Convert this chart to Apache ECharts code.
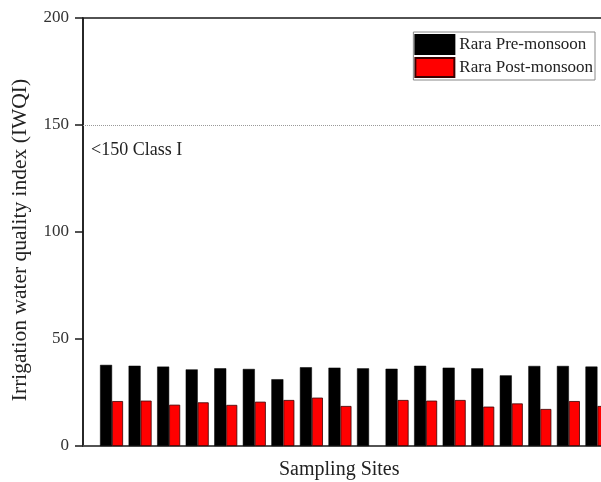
<!DOCTYPE html>
<html>
<head>
<meta charset="utf-8">
<script src="https://cdn.jsdelivr.net/npm/echarts@6/dist/echarts.min.js"></script>
<style>
  html, body { margin: 0; padding: 0; overflow: hidden; background: #fff; }
  /* the plot runs on past the right edge of the window */
  #chart { width: 640px; height: 482px; }
</style>
</head>
<body>
<div id="chart"></div>
<script>
// Sampling site numbers along the x axis
const sites = [1, 2, 3, 4, 5, 6, 7, 8, 9, 10, 11, 12, 13, 14, 15, 16, 17, 18];
// IWQI values per site
const preMonsoon  = [37.9, 37.5, 37.1, 35.8, 36.3, 36.0, 31.2, 36.8, 36.6, 36.3, 36.1, 37.5, 36.6, 36.3, 33.0, 37.4, 37.4, 37.1];
const postMonsoon = [21.0, 21.2, 19.3, 20.4, 19.2, 20.7, 21.5, 22.6, 18.7, null, 21.5, 21.2, 21.5, 18.4, 19.9, 17.3, 21.0, 18.7];
// y axis ticks
const yTicks = [0, 50, 100, 150, 200];
const classLimit = 150;
const classLabel = '<150 Class I';

const serif = '"Liberation Serif", "Times New Roman", serif';
const chart = echarts.init(document.getElementById('chart'));

chart.setOption({
  animation: false,
  textStyle: { fontFamily: serif },
  grid: {
    left: 83, top: 18, bottom: 36, right: 14.5,
    outerBoundsMode: 'none',
    containLabel: false,
    show: true, borderColor: '#1a1a1a', borderWidth: 1.5, backgroundColor: 'transparent'
  },
  legend: {
    orient: 'vertical',
    right: 45, top: 32,
    itemWidth: 39, itemHeight: 19, itemGap: 2,
    padding: [2, 2, 2, 1],
    borderColor: '#888', borderWidth: 1,
    icon: 'rect',
    textStyle: { fontFamily: serif, fontSize: 17, color: '#222' },
    data: ['Rara Pre-monsoon', 'Rara Post-monsoon']
  },
  xAxis: {
    type: 'value',
    min: 0, max: 19, interval: 1,
    name: 'Sampling Sites',
    nameLocation: 'middle',
    nameGap: 14,
    nameTextStyle: { fontFamily: serif, fontSize: 20, color: '#222', padding: [0, 30, 0, 0] },
    axisLine: { show: true, lineStyle: { color: '#555', width: 1.5 } },
    axisTick: { show: false },
    axisLabel: { show: false },
    splitLine: { show: false }
  },
  yAxis: {
    type: 'value',
    min: yTicks[0], max: yTicks[yTicks.length - 1], interval: 50,
    name: 'Irrigation water quality index (IWQI)',
    nameLocation: 'middle',
    nameGap: 52,
    nameTextStyle: { fontFamily: serif, fontSize: 21.5, color: '#222', padding: [0, 16, 0, 0] },
    axisLine: { show: true, lineStyle: { color: '#1a1a1a', width: 1.5 } },
    axisTick: { show: true, inside: false, length: 8, lineStyle: { color: '#1a1a1a', width: 1.5 } },
    axisLabel: { fontFamily: serif, fontSize: 17, color: '#333', margin: 14 },
    splitLine: { show: false }
  },
  series: [
    {
      name: 'Rara Pre-monsoon',
      type: 'bar',
      barWidth: 12, barGap: '0%',
      itemStyle: { color: '#000', borderColor: '#000', borderWidth: 0.5 },
      data: sites.map((s, i) => [s, preMonsoon[i]]),
      markLine: {
        silent: true,
        symbol: 'none',
        lineStyle: { type: 'dotted', color: '#999', width: 1 },
        label: {
          show: true,
          position: 'insideStartBottom',
          formatter: classLabel,
          fontFamily: serif, fontSize: 18, color: '#222',
          distance: [8, 16]
        },
        data: [{ yAxis: classLimit }]
      }
    },
    {
      name: 'Rara Post-monsoon',
      type: 'bar',
      barWidth: 11, barGap: '0%',
      itemStyle: { color: '#ff0000', borderColor: '#3a0000', borderWidth: 0.8 },
      data: sites.map((s, i) => [s, postMonsoon[i]])
    }
  ]
});
</script>
</body>
</html>
